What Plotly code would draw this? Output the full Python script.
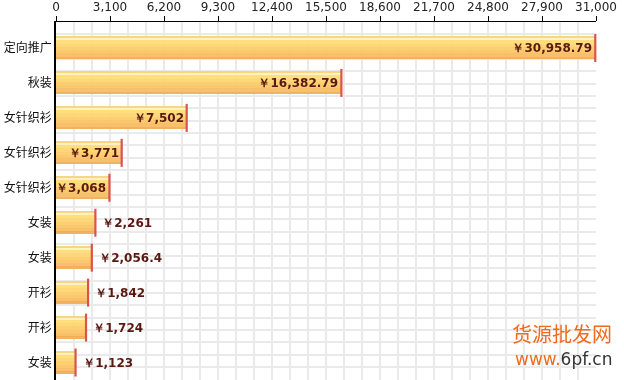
import plotly.graph_objects as go

categories = ["定向推广", "秋装", "女针织衫", "女针织衫", "女针织衫", "女装", "女装", "开衫", "开衫", "女装"]
values = [30958.79, 16382.79, 7502, 3771, 3068, 2261, 2056.4, 1842, 1724, 1123]
label_inside = [True, True, True, True, True, False, False, False, False, False]
x_ticks = [0, 3100, 6200, 9300, 12400, 15500, 18600, 21700, 24800, 27900, 31000]

def fmt(v):
    if float(v).is_integer():
        return "￥{:,}".format(int(v))
    return "￥{:,}".format(v)

labels = [fmt(v) for v in values]
pos = list(range(len(categories)))

BAR_W = 0.63
# stripes from top to bottom of the bar (fraction start, fraction end, colour)
stripes = [
    (0.00, 0.05, "#F9D27A"),
    (0.05, 0.16, "#FFF1BE"),
    (0.16, 0.30, "#FFDC72"),
    (0.30, 0.45, "#FED56C"),
    (0.45, 0.60, "#FCCB66"),
    (0.60, 0.75, "#FAC362"),
    (0.75, 0.92, "#F8BB5E"),
    (0.92, 1.00, "#EFAD56"),
]

fig = go.Figure()
for a, b, col in stripes:
    fig.add_trace(go.Bar(
        x=values, y=pos, orientation="h",
        width=[(b - a) * BAR_W] * len(pos),
        offset=[-BAR_W / 2 + a * BAR_W] * len(pos),
        marker=dict(color=col, line=dict(width=0)),
        opacity=0.92, hoverinfo="skip", showlegend=False,
    ))

# text carrier
fig.add_trace(go.Bar(
    x=values, y=pos, orientation="h",
    width=BAR_W,
    marker=dict(color="rgba(0,0,0,0)", line=dict(width=0)),
    text=[(" " if not ins else "") + t for t, ins in zip(labels, label_inside)],
    textposition=["inside" if ins else "outside" for ins in label_inside],
    insidetextanchor="end",
    constraintext="none",
    cliponaxis=False,
    textfont=dict(family="DejaVu Sans", size=12, color="#5A1810", weight="bold"),
    hoverinfo="skip", showlegend=False,
))

# red end caps
fig.add_trace(go.Scatter(
    x=values, y=pos, mode="markers",
    marker=dict(symbol="line-ns", size=20, line=dict(color="#D9534F", width=2.2)),
    hoverinfo="skip", showlegend=False, cliponaxis=False,
))

TOP = -0.743
fig.update_layout(
    width=624, height=380,
    margin=dict(l=56, r=28, t=22, b=0),
    paper_bgcolor="white", plot_bgcolor="white",
    barmode="overlay", bargap=0,
    xaxis=dict(
        side="top", range=[0, 31000],
        tickmode="array", tickvals=x_ticks,
        ticktext=["{:,}".format(t) for t in x_ticks],
        ticks="outside", ticklen=5, tickcolor="black", tickwidth=1,
        showline=True, linecolor="black", linewidth=1,
        showgrid=True, gridcolor="#EAEAEA", gridwidth=2,
        minor=dict(dtick=31000 / 30, tick0=0, showgrid=True, gridcolor="#EAEAEA", gridwidth=2),
        tickfont=dict(family="DejaVu Sans", size=12, color="#222222"),
        zeroline=False, fixedrange=True,
    ),
    yaxis=dict(
        range=[9.5, TOP],
        tickmode="array", tickvals=pos, ticktext=categories,
        ticks="", showline=True, linecolor="black", linewidth=1.5,
        showgrid=False,
        minor=dict(tick0=TOP, dtick=0.3526, showgrid=True, gridcolor="#EAEAEA", gridwidth=2),
        tickfont=dict(family="Noto Sans CJK SC", size=12, color="#111111"),
        zeroline=False, fixedrange=True,
    ),
    annotations=[
        dict(xref="paper", yref="paper", x=1.033, y=0.131, xanchor="right", yanchor="middle",
             text="货源批发网", showarrow=False,
             font=dict(family="Noto Sans CJK SC", size=20, color="#F26A1B")),
        dict(xref="paper", yref="paper", x=1.033, y=0.058, xanchor="right", yanchor="middle",
             text="<span style='color:#F26A1B'>www.</span><span style='color:#333333'>6pf.cn</span>",
             showarrow=False,
             font=dict(family="DejaVu Sans", size=17, color="#333333")),
    ],
)

fig.write_html("out.html")
